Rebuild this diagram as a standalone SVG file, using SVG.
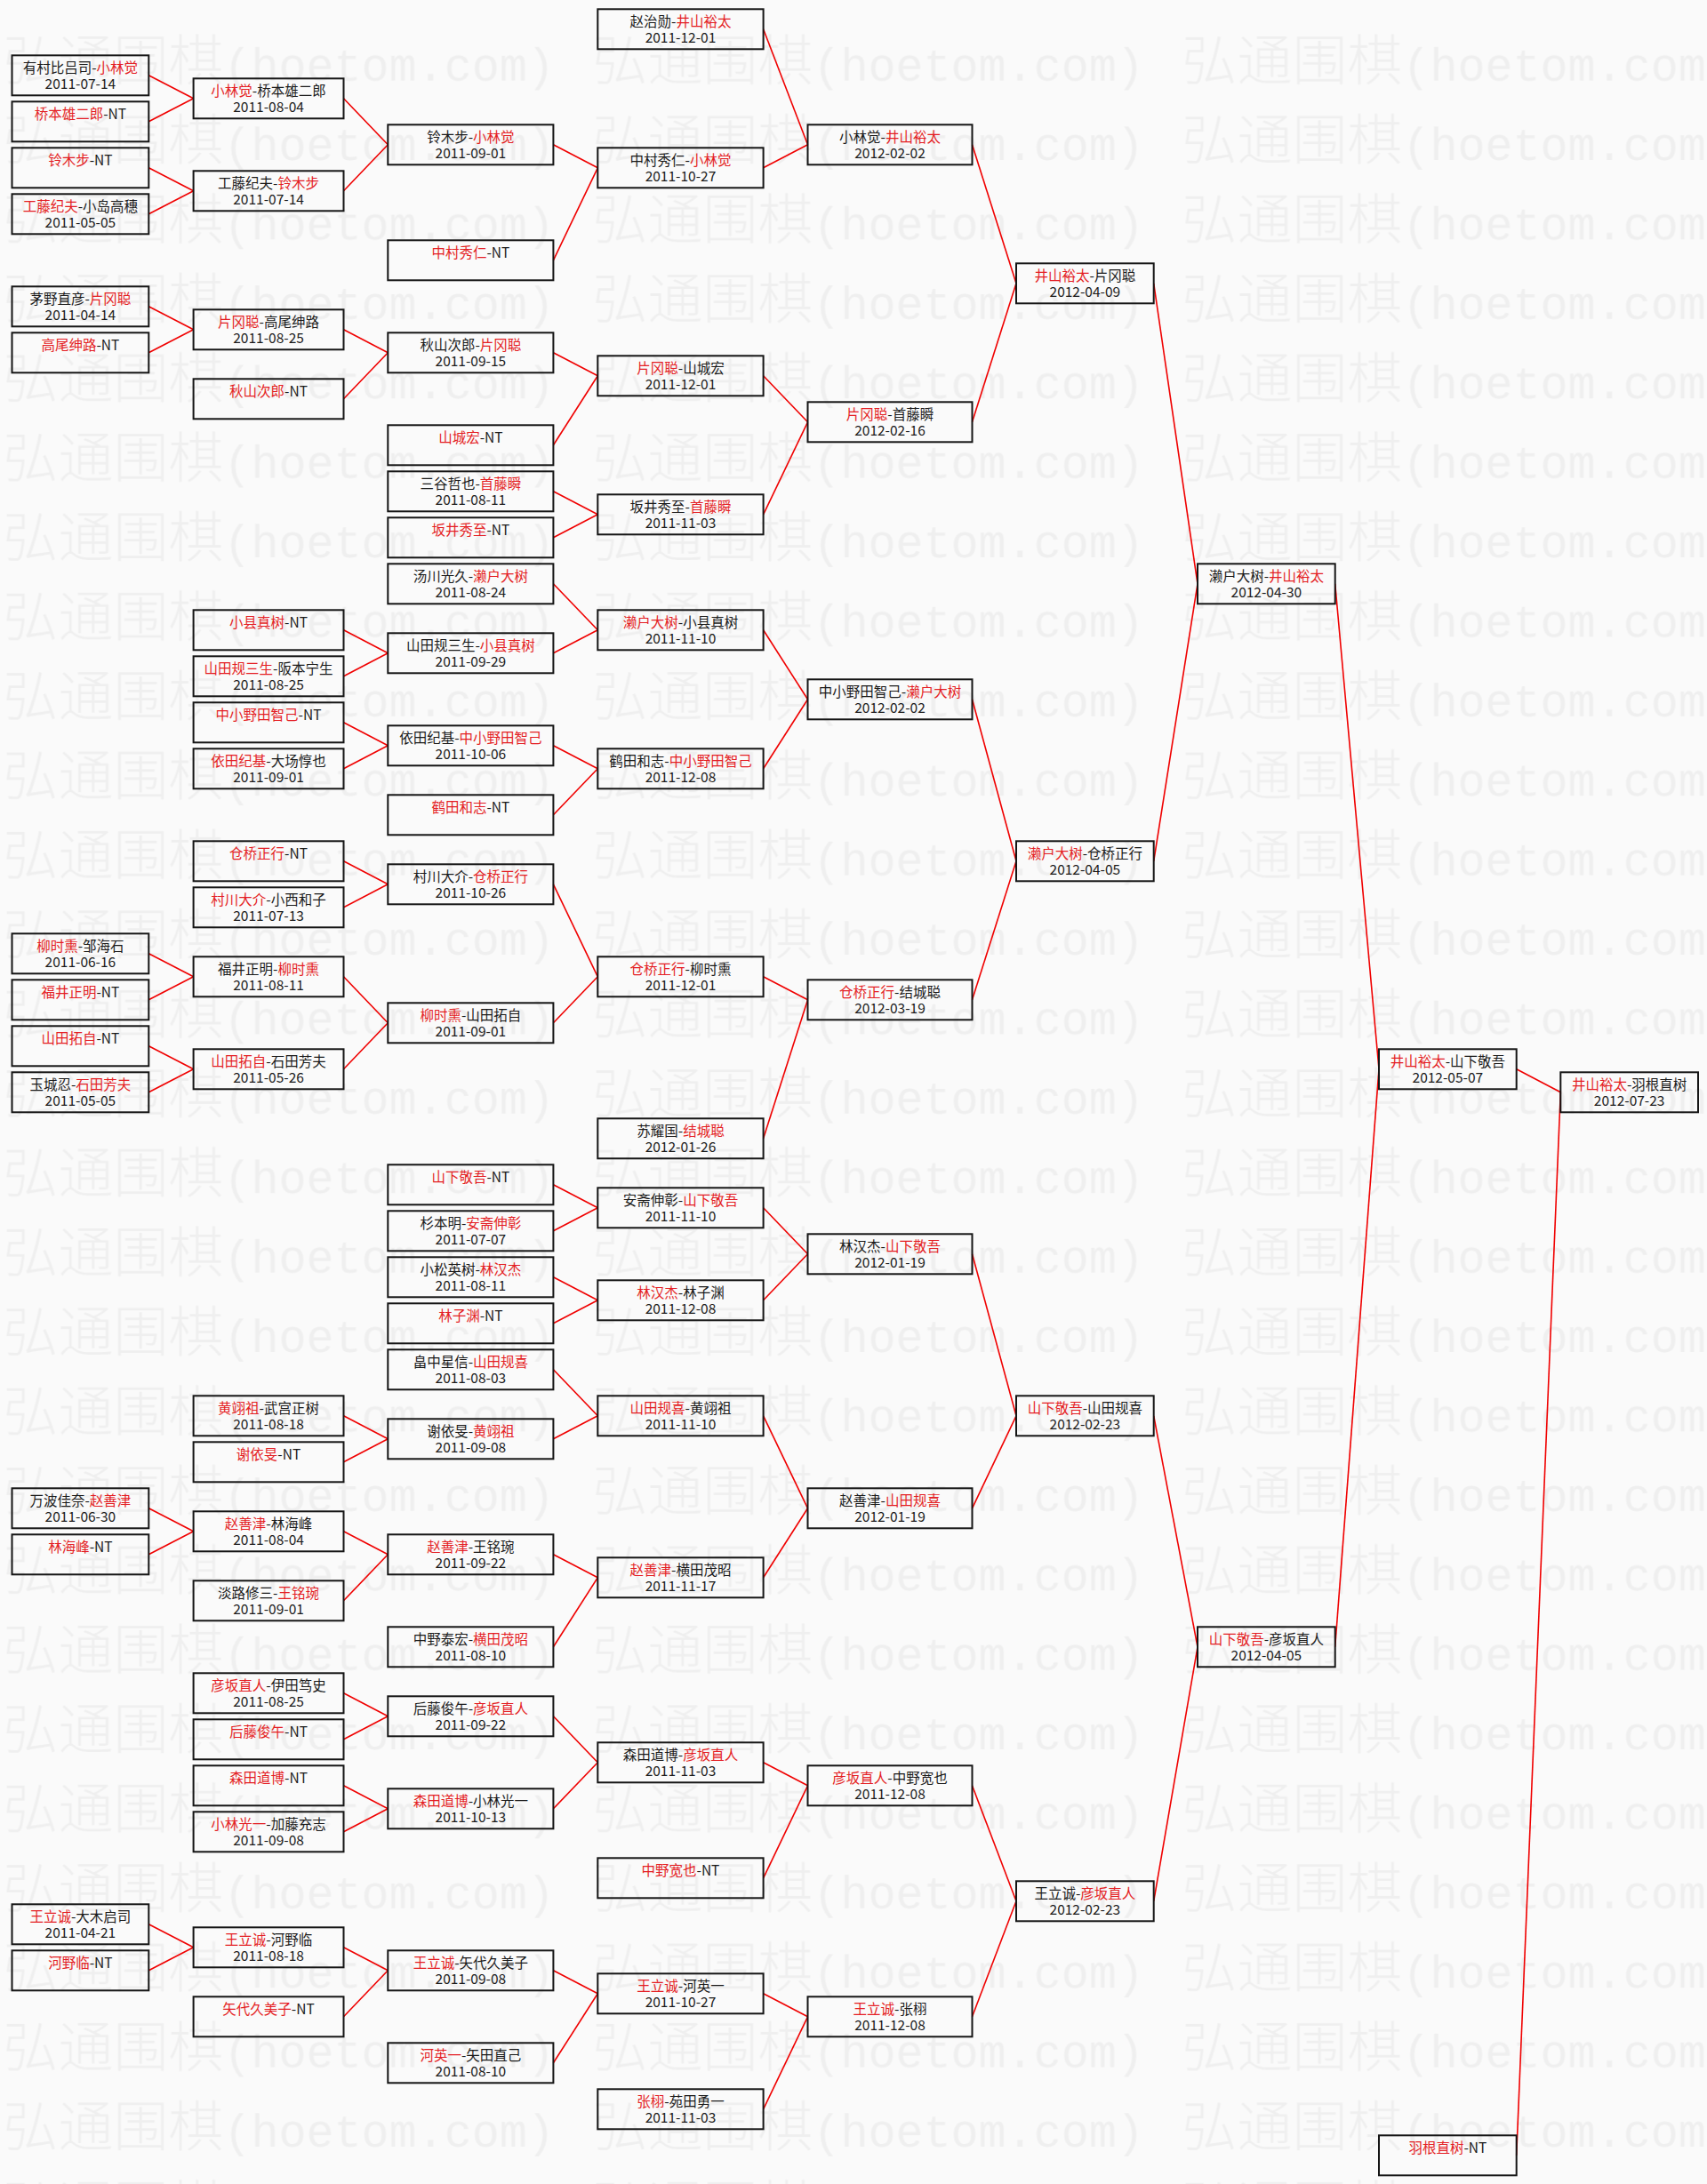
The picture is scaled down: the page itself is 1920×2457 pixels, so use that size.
<svg xmlns="http://www.w3.org/2000/svg" width="1920" height="2457" viewBox="0 0 1920 2457">
<style>
.bg{fill:#fafafa}
.wm{font-family:"Noto Sans CJK SC","Noto Sans",sans-serif;font-size:62px;font-weight:300;fill:#efefef}
.wl{font-family:"Liberation Mono",monospace;font-size:51.7px}
.b{fill:none;stroke:#151515;stroke-width:2}
.t{font-family:"Noto Sans CJK SC","Noto Sans",sans-serif;font-size:15.5px;fill:#1a1a1a;text-anchor:middle}
.r{fill:#e41e24}
#links path{stroke:#f00000;stroke-width:1.6;fill:none}
</style>
<defs>
<pattern id="wmp" patternUnits="userSpaceOnUse" x="3.5" y="31" width="663" height="89.4">
<text class="wm" x="0" y="60">弘通围棋<tspan class="wl">(hoetom.com)</tspan></text>
</pattern>
</defs>
<rect class="bg" x="0" y="0" width="1920" height="2457"/>
<rect x="0" y="31" width="1920" height="2426" fill="url(#wmp)"/>

<g id="links">
<path d="M167.3 84.8L217.6 110.8"/><path d="M167.3 136.8L217.6 110.8"/>
<path d="M167.3 188.8L217.6 214.8"/><path d="M167.3 240.8L217.6 214.8"/>
<path d="M167.3 344.8L217.6 370.8"/><path d="M167.3 396.8L217.6 370.8"/>
<path d="M167.3 1072.8L217.6 1098.8"/><path d="M167.3 1124.8L217.6 1098.8"/>
<path d="M167.3 1176.8L217.6 1202.8"/><path d="M167.3 1228.8L217.6 1202.8"/>
<path d="M167.3 1696.8L217.6 1722.8"/><path d="M167.3 1748.8L217.6 1722.8"/>
<path d="M167.3 2164.8L217.6 2190.8"/><path d="M167.3 2216.8L217.6 2190.8"/>

<path d="M386.5 110.8L436.3 162.8"/><path d="M386.5 214.8L436.3 162.8"/>
<path d="M386.5 370.8L436.3 396.8"/><path d="M386.5 448.8L436.3 396.8"/>
<path d="M386.5 708.8L436.3 734.8"/><path d="M386.5 760.8L436.3 734.8"/>
<path d="M386.5 812.8L436.3 838.8"/><path d="M386.5 864.8L436.3 838.8"/>
<path d="M386.5 968.8L436.3 994.8"/><path d="M386.5 1020.8L436.3 994.8"/>
<path d="M386.5 1098.8L436.3 1150.8"/><path d="M386.5 1202.8L436.3 1150.8"/>
<path d="M386.5 1592.8L436.3 1618.8"/><path d="M386.5 1644.8L436.3 1618.8"/>
<path d="M386.5 1722.8L436.3 1748.8"/><path d="M386.5 1800.8L436.3 1748.8"/>
<path d="M386.5 1904.8L436.3 1930.8"/><path d="M386.5 1956.8L436.3 1930.8"/>
<path d="M386.5 2008.8L436.3 2034.8"/><path d="M386.5 2060.8L436.3 2034.8"/>
<path d="M386.5 2190.8L436.3 2216.8"/><path d="M386.5 2268.8L436.3 2216.8"/>

<path d="M622.4 162.8L672.3 188.8"/><path d="M622.4 292.8L672.3 188.8"/>
<path d="M622.4 396.8L672.3 422.8"/><path d="M622.4 500.8L672.3 422.8"/>
<path d="M622.4 552.8L672.3 578.8"/><path d="M622.4 604.8L672.3 578.8"/>
<path d="M622.4 656.8L672.3 708.8"/><path d="M622.4 734.8L672.3 708.8"/>
<path d="M622.4 838.8L672.3 864.8"/><path d="M622.4 916.8L672.3 864.8"/>
<path d="M622.4 994.8L672.3 1098.8"/><path d="M622.4 1150.8L672.3 1098.8"/>
<path d="M622.4 1332.8L672.3 1358.8"/><path d="M622.4 1384.8L672.3 1358.8"/>
<path d="M622.4 1436.8L672.3 1462.8"/><path d="M622.4 1488.8L672.3 1462.8"/>
<path d="M622.4 1540.8L672.3 1592.8"/><path d="M622.4 1618.8L672.3 1592.8"/>
<path d="M622.4 1748.8L672.3 1774.8"/><path d="M622.4 1852.8L672.3 1774.8"/>
<path d="M622.4 1930.8L672.3 1982.8"/><path d="M622.4 2034.8L672.3 1982.8"/>
<path d="M622.4 2216.8L672.3 2242.8"/><path d="M622.4 2320.8L672.3 2242.8"/>

<path d="M858.6 32.8L908.5 162.8"/><path d="M858.6 188.8L908.5 162.8"/>
<path d="M858.6 422.8L908.5 474.8"/><path d="M858.6 578.8L908.5 474.8"/>
<path d="M858.6 708.8L908.5 786.8"/><path d="M858.6 864.8L908.5 786.8"/>
<path d="M858.6 1098.8L908.5 1124.8"/><path d="M858.6 1280.8L908.5 1124.8"/>
<path d="M858.6 1358.8L908.5 1410.8"/><path d="M858.6 1462.8L908.5 1410.8"/>
<path d="M858.6 1592.8L908.5 1696.8"/><path d="M858.6 1774.8L908.5 1696.8"/>
<path d="M858.6 1982.8L908.5 2008.8"/><path d="M858.6 2112.8L908.5 2008.8"/>
<path d="M858.6 2242.8L908.5 2268.8"/><path d="M858.6 2372.8L908.5 2268.8"/>

<path d="M1093.5 162.8L1143 318.8"/><path d="M1093.5 474.8L1143 318.8"/>
<path d="M1093.5 786.8L1143 968.8"/><path d="M1093.5 1124.8L1143 968.8"/>
<path d="M1093.5 1410.8L1143 1592.8"/><path d="M1093.5 1696.8L1143 1592.8"/>
<path d="M1093.5 2008.8L1143 2138.8"/><path d="M1093.5 2268.8L1143 2138.8"/>

<path d="M1297.7 318.8L1347 656.8"/><path d="M1297.7 968.8L1347 656.8"/>
<path d="M1297.7 1592.8L1347 1852.8"/><path d="M1297.7 2138.8L1347 1852.8"/>

<path d="M1501.7 656.8L1551 1202.8"/><path d="M1501.7 1852.8L1551 1202.8"/>

<path d="M1705.7 1202.8L1755.3 1228.8"/><path d="M1705.7 2424.8L1755.3 1228.8"/>
</g>

<!-- column 0 -->
<g id="c0r2" transform="translate(13.5 62.3)"><rect class="b" width="153.8" height="45"/><text class="t" x="76.9" y="20">有村比吕司-<tspan class="r">小林觉</tspan></text><text class="t" x="76.9" y="38">2011-07-14</text></g>
<g id="c0r4" transform="translate(13.5 114.3)"><rect class="b" width="153.8" height="45"/><text class="t" x="76.9" y="20"><tspan class="r">桥本雄二郎</tspan>-NT</text></g>
<g id="c0r6" transform="translate(13.5 166.3)"><rect class="b" width="153.8" height="45"/><text class="t" x="76.9" y="20"><tspan class="r">铃木步</tspan>-NT</text></g>
<g id="c0r8" transform="translate(13.5 218.3)"><rect class="b" width="153.8" height="45"/><text class="t" x="76.9" y="20"><tspan class="r">工藤纪夫</tspan>-小岛高穗</text><text class="t" x="76.9" y="38">2011-05-05</text></g>
<g id="c0r12" transform="translate(13.5 322.3)"><rect class="b" width="153.8" height="45"/><text class="t" x="76.9" y="20">茅野直彦-<tspan class="r">片冈聪</tspan></text><text class="t" x="76.9" y="38">2011-04-14</text></g>
<g id="c0r14" transform="translate(13.5 374.3)"><rect class="b" width="153.8" height="45"/><text class="t" x="76.9" y="20"><tspan class="r">高尾绅路</tspan>-NT</text></g>
<g id="c0r40" transform="translate(13.5 1050.3)"><rect class="b" width="153.8" height="45"/><text class="t" x="76.9" y="20"><tspan class="r">柳时熏</tspan>-邹海石</text><text class="t" x="76.9" y="38">2011-06-16</text></g>
<g id="c0r42" transform="translate(13.5 1102.3)"><rect class="b" width="153.8" height="45"/><text class="t" x="76.9" y="20"><tspan class="r">福井正明</tspan>-NT</text></g>
<g id="c0r44" transform="translate(13.5 1154.3)"><rect class="b" width="153.8" height="45"/><text class="t" x="76.9" y="20"><tspan class="r">山田拓自</tspan>-NT</text></g>
<g id="c0r46" transform="translate(13.5 1206.3)"><rect class="b" width="153.8" height="45"/><text class="t" x="76.9" y="20">玉城忍-<tspan class="r">石田芳夫</tspan></text><text class="t" x="76.9" y="38">2011-05-05</text></g>
<g id="c0r64" transform="translate(13.5 1674.3)"><rect class="b" width="153.8" height="45"/><text class="t" x="76.9" y="20">万波佳奈-<tspan class="r">赵善津</tspan></text><text class="t" x="76.9" y="38">2011-06-30</text></g>
<g id="c0r66" transform="translate(13.5 1726.3)"><rect class="b" width="153.8" height="45"/><text class="t" x="76.9" y="20"><tspan class="r">林海峰</tspan>-NT</text></g>
<g id="c0r82" transform="translate(13.5 2142.3)"><rect class="b" width="153.8" height="45"/><text class="t" x="76.9" y="20"><tspan class="r">王立诚</tspan>-大木启司</text><text class="t" x="76.9" y="38">2011-04-21</text></g>
<g id="c0r84" transform="translate(13.5 2194.3)"><rect class="b" width="153.8" height="45"/><text class="t" x="76.9" y="20"><tspan class="r">河野临</tspan>-NT</text></g>

<!-- column 1 -->
<g id="c1r3" transform="translate(217.6 88.3)"><rect class="b" width="168.9" height="45"/><text class="t" x="84.45" y="20"><tspan class="r">小林觉</tspan>-桥本雄二郎</text><text class="t" x="84.45" y="38">2011-08-04</text></g>
<g id="c1r7" transform="translate(217.6 192.3)"><rect class="b" width="168.9" height="45"/><text class="t" x="84.45" y="20">工藤纪夫-<tspan class="r">铃木步</tspan></text><text class="t" x="84.45" y="38">2011-07-14</text></g>
<g id="c1r13" transform="translate(217.6 348.3)"><rect class="b" width="168.9" height="45"/><text class="t" x="84.45" y="20"><tspan class="r">片冈聪</tspan>-高尾绅路</text><text class="t" x="84.45" y="38">2011-08-25</text></g>
<g id="c1r16" transform="translate(217.6 426.3)"><rect class="b" width="168.9" height="45"/><text class="t" x="84.45" y="20"><tspan class="r">秋山次郎</tspan>-NT</text></g>
<g id="c1r26" transform="translate(217.6 686.3)"><rect class="b" width="168.9" height="45"/><text class="t" x="84.45" y="20"><tspan class="r">小县真树</tspan>-NT</text></g>
<g id="c1r28" transform="translate(217.6 738.3)"><rect class="b" width="168.9" height="45"/><text class="t" x="84.45" y="20"><tspan class="r">山田规三生</tspan>-阪本宁生</text><text class="t" x="84.45" y="38">2011-08-25</text></g>
<g id="c1r30" transform="translate(217.6 790.3)"><rect class="b" width="168.9" height="45"/><text class="t" x="84.45" y="20"><tspan class="r">中小野田智己</tspan>-NT</text></g>
<g id="c1r32" transform="translate(217.6 842.3)"><rect class="b" width="168.9" height="45"/><text class="t" x="84.45" y="20"><tspan class="r">依田纪基</tspan>-大场惇也</text><text class="t" x="84.45" y="38">2011-09-01</text></g>
<g id="c1r36" transform="translate(217.6 946.3)"><rect class="b" width="168.9" height="45"/><text class="t" x="84.45" y="20"><tspan class="r">仓桥正行</tspan>-NT</text></g>
<g id="c1r38" transform="translate(217.6 998.3)"><rect class="b" width="168.9" height="45"/><text class="t" x="84.45" y="20"><tspan class="r">村川大介</tspan>-小西和子</text><text class="t" x="84.45" y="38">2011-07-13</text></g>
<g id="c1r41" transform="translate(217.6 1076.3)"><rect class="b" width="168.9" height="45"/><text class="t" x="84.45" y="20">福井正明-<tspan class="r">柳时熏</tspan></text><text class="t" x="84.45" y="38">2011-08-11</text></g>
<g id="c1r45" transform="translate(217.6 1180.3)"><rect class="b" width="168.9" height="45"/><text class="t" x="84.45" y="20"><tspan class="r">山田拓自</tspan>-石田芳夫</text><text class="t" x="84.45" y="38">2011-05-26</text></g>
<g id="c1r60" transform="translate(217.6 1570.3)"><rect class="b" width="168.9" height="45"/><text class="t" x="84.45" y="20"><tspan class="r">黄翊祖</tspan>-武宫正树</text><text class="t" x="84.45" y="38">2011-08-18</text></g>
<g id="c1r62" transform="translate(217.6 1622.3)"><rect class="b" width="168.9" height="45"/><text class="t" x="84.45" y="20"><tspan class="r">谢依旻</tspan>-NT</text></g>
<g id="c1r65" transform="translate(217.6 1700.3)"><rect class="b" width="168.9" height="45"/><text class="t" x="84.45" y="20"><tspan class="r">赵善津</tspan>-林海峰</text><text class="t" x="84.45" y="38">2011-08-04</text></g>
<g id="c1r68" transform="translate(217.6 1778.3)"><rect class="b" width="168.9" height="45"/><text class="t" x="84.45" y="20">淡路修三-<tspan class="r">王铭琬</tspan></text><text class="t" x="84.45" y="38">2011-09-01</text></g>
<g id="c1r72" transform="translate(217.6 1882.3)"><rect class="b" width="168.9" height="45"/><text class="t" x="84.45" y="20"><tspan class="r">彦坂直人</tspan>-伊田笃史</text><text class="t" x="84.45" y="38">2011-08-25</text></g>
<g id="c1r74" transform="translate(217.6 1934.3)"><rect class="b" width="168.9" height="45"/><text class="t" x="84.45" y="20"><tspan class="r">后藤俊午</tspan>-NT</text></g>
<g id="c1r76" transform="translate(217.6 1986.3)"><rect class="b" width="168.9" height="45"/><text class="t" x="84.45" y="20"><tspan class="r">森田道博</tspan>-NT</text></g>
<g id="c1r78" transform="translate(217.6 2038.3)"><rect class="b" width="168.9" height="45"/><text class="t" x="84.45" y="20"><tspan class="r">小林光一</tspan>-加藤充志</text><text class="t" x="84.45" y="38">2011-09-08</text></g>
<g id="c1r83" transform="translate(217.6 2168.3)"><rect class="b" width="168.9" height="45"/><text class="t" x="84.45" y="20"><tspan class="r">王立诚</tspan>-河野临</text><text class="t" x="84.45" y="38">2011-08-18</text></g>
<g id="c1r86" transform="translate(217.6 2246.3)"><rect class="b" width="168.9" height="45"/><text class="t" x="84.45" y="20"><tspan class="r">矢代久美子</tspan>-NT</text></g>

<!-- column 2 -->
<g id="c2r5" transform="translate(436.3 140.3)"><rect class="b" width="186.1" height="45"/><text class="t" x="93.05" y="20">铃木步-<tspan class="r">小林觉</tspan></text><text class="t" x="93.05" y="38">2011-09-01</text></g>
<g id="c2r10" transform="translate(436.3 270.3)"><rect class="b" width="186.1" height="45"/><text class="t" x="93.05" y="20"><tspan class="r">中村秀仁</tspan>-NT</text></g>
<g id="c2r14" transform="translate(436.3 374.3)"><rect class="b" width="186.1" height="45"/><text class="t" x="93.05" y="20">秋山次郎-<tspan class="r">片冈聪</tspan></text><text class="t" x="93.05" y="38">2011-09-15</text></g>
<g id="c2r18" transform="translate(436.3 478.3)"><rect class="b" width="186.1" height="45"/><text class="t" x="93.05" y="20"><tspan class="r">山城宏</tspan>-NT</text></g>
<g id="c2r20" transform="translate(436.3 530.3)"><rect class="b" width="186.1" height="45"/><text class="t" x="93.05" y="20">三谷哲也-<tspan class="r">首藤瞬</tspan></text><text class="t" x="93.05" y="38">2011-08-11</text></g>
<g id="c2r22" transform="translate(436.3 582.3)"><rect class="b" width="186.1" height="45"/><text class="t" x="93.05" y="20"><tspan class="r">坂井秀至</tspan>-NT</text></g>
<g id="c2r24" transform="translate(436.3 634.3)"><rect class="b" width="186.1" height="45"/><text class="t" x="93.05" y="20">汤川光久-<tspan class="r">濑户大树</tspan></text><text class="t" x="93.05" y="38">2011-08-24</text></g>
<g id="c2r27" transform="translate(436.3 712.3)"><rect class="b" width="186.1" height="45"/><text class="t" x="93.05" y="20">山田规三生-<tspan class="r">小县真树</tspan></text><text class="t" x="93.05" y="38">2011-09-29</text></g>
<g id="c2r31" transform="translate(436.3 816.3)"><rect class="b" width="186.1" height="45"/><text class="t" x="93.05" y="20">依田纪基-<tspan class="r">中小野田智己</tspan></text><text class="t" x="93.05" y="38">2011-10-06</text></g>
<g id="c2r34" transform="translate(436.3 894.3)"><rect class="b" width="186.1" height="45"/><text class="t" x="93.05" y="20"><tspan class="r">鹤田和志</tspan>-NT</text></g>
<g id="c2r37" transform="translate(436.3 972.3)"><rect class="b" width="186.1" height="45"/><text class="t" x="93.05" y="20">村川大介-<tspan class="r">仓桥正行</tspan></text><text class="t" x="93.05" y="38">2011-10-26</text></g>
<g id="c2r43" transform="translate(436.3 1128.3)"><rect class="b" width="186.1" height="45"/><text class="t" x="93.05" y="20"><tspan class="r">柳时熏</tspan>-山田拓自</text><text class="t" x="93.05" y="38">2011-09-01</text></g>
<g id="c2r50" transform="translate(436.3 1310.3)"><rect class="b" width="186.1" height="45"/><text class="t" x="93.05" y="20"><tspan class="r">山下敬吾</tspan>-NT</text></g>
<g id="c2r52" transform="translate(436.3 1362.3)"><rect class="b" width="186.1" height="45"/><text class="t" x="93.05" y="20">杉本明-<tspan class="r">安斋伸彰</tspan></text><text class="t" x="93.05" y="38">2011-07-07</text></g>
<g id="c2r54" transform="translate(436.3 1414.3)"><rect class="b" width="186.1" height="45"/><text class="t" x="93.05" y="20">小松英树-<tspan class="r">林汉杰</tspan></text><text class="t" x="93.05" y="38">2011-08-11</text></g>
<g id="c2r56" transform="translate(436.3 1466.3)"><rect class="b" width="186.1" height="45"/><text class="t" x="93.05" y="20"><tspan class="r">林子渊</tspan>-NT</text></g>
<g id="c2r58" transform="translate(436.3 1518.3)"><rect class="b" width="186.1" height="45"/><text class="t" x="93.05" y="20">畠中星信-<tspan class="r">山田规喜</tspan></text><text class="t" x="93.05" y="38">2011-08-03</text></g>
<g id="c2r61" transform="translate(436.3 1596.3)"><rect class="b" width="186.1" height="45"/><text class="t" x="93.05" y="20">谢依旻-<tspan class="r">黄翊祖</tspan></text><text class="t" x="93.05" y="38">2011-09-08</text></g>
<g id="c2r66" transform="translate(436.3 1726.3)"><rect class="b" width="186.1" height="45"/><text class="t" x="93.05" y="20"><tspan class="r">赵善津</tspan>-王铭琬</text><text class="t" x="93.05" y="38">2011-09-22</text></g>
<g id="c2r70" transform="translate(436.3 1830.3)"><rect class="b" width="186.1" height="45"/><text class="t" x="93.05" y="20">中野泰宏-<tspan class="r">横田茂昭</tspan></text><text class="t" x="93.05" y="38">2011-08-10</text></g>
<g id="c2r73" transform="translate(436.3 1908.3)"><rect class="b" width="186.1" height="45"/><text class="t" x="93.05" y="20">后藤俊午-<tspan class="r">彦坂直人</tspan></text><text class="t" x="93.05" y="38">2011-09-22</text></g>
<g id="c2r77" transform="translate(436.3 2012.3)"><rect class="b" width="186.1" height="45"/><text class="t" x="93.05" y="20"><tspan class="r">森田道博</tspan>-小林光一</text><text class="t" x="93.05" y="38">2011-10-13</text></g>
<g id="c2r84" transform="translate(436.3 2194.3)"><rect class="b" width="186.1" height="45"/><text class="t" x="93.05" y="20"><tspan class="r">王立诚</tspan>-矢代久美子</text><text class="t" x="93.05" y="38">2011-09-08</text></g>
<g id="c2r88" transform="translate(436.3 2298.3)"><rect class="b" width="186.1" height="45"/><text class="t" x="93.05" y="20"><tspan class="r">河英一</tspan>-矢田直己</text><text class="t" x="93.05" y="38">2011-08-10</text></g>

<!-- column 3 -->
<g id="c3r0" transform="translate(672.3 10.3)"><rect class="b" width="186.3" height="45"/><text class="t" x="93.15" y="20">赵治勋-<tspan class="r">井山裕太</tspan></text><text class="t" x="93.15" y="38">2011-12-01</text></g>
<g id="c3r6" transform="translate(672.3 166.3)"><rect class="b" width="186.3" height="45"/><text class="t" x="93.15" y="20">中村秀仁-<tspan class="r">小林觉</tspan></text><text class="t" x="93.15" y="38">2011-10-27</text></g>
<g id="c3r15" transform="translate(672.3 400.3)"><rect class="b" width="186.3" height="45"/><text class="t" x="93.15" y="20"><tspan class="r">片冈聪</tspan>-山城宏</text><text class="t" x="93.15" y="38">2011-12-01</text></g>
<g id="c3r21" transform="translate(672.3 556.3)"><rect class="b" width="186.3" height="45"/><text class="t" x="93.15" y="20">坂井秀至-<tspan class="r">首藤瞬</tspan></text><text class="t" x="93.15" y="38">2011-11-03</text></g>
<g id="c3r26" transform="translate(672.3 686.3)"><rect class="b" width="186.3" height="45"/><text class="t" x="93.15" y="20"><tspan class="r">濑户大树</tspan>-小县真树</text><text class="t" x="93.15" y="38">2011-11-10</text></g>
<g id="c3r32" transform="translate(672.3 842.3)"><rect class="b" width="186.3" height="45"/><text class="t" x="93.15" y="20">鹤田和志-<tspan class="r">中小野田智己</tspan></text><text class="t" x="93.15" y="38">2011-12-08</text></g>
<g id="c3r41" transform="translate(672.3 1076.3)"><rect class="b" width="186.3" height="45"/><text class="t" x="93.15" y="20"><tspan class="r">仓桥正行</tspan>-柳时熏</text><text class="t" x="93.15" y="38">2011-12-01</text></g>
<g id="c3r48" transform="translate(672.3 1258.3)"><rect class="b" width="186.3" height="45"/><text class="t" x="93.15" y="20">苏耀国-<tspan class="r">结城聪</tspan></text><text class="t" x="93.15" y="38">2012-01-26</text></g>
<g id="c3r51" transform="translate(672.3 1336.3)"><rect class="b" width="186.3" height="45"/><text class="t" x="93.15" y="20">安斋伸彰-<tspan class="r">山下敬吾</tspan></text><text class="t" x="93.15" y="38">2011-11-10</text></g>
<g id="c3r55" transform="translate(672.3 1440.3)"><rect class="b" width="186.3" height="45"/><text class="t" x="93.15" y="20"><tspan class="r">林汉杰</tspan>-林子渊</text><text class="t" x="93.15" y="38">2011-12-08</text></g>
<g id="c3r60" transform="translate(672.3 1570.3)"><rect class="b" width="186.3" height="45"/><text class="t" x="93.15" y="20"><tspan class="r">山田规喜</tspan>-黄翊祖</text><text class="t" x="93.15" y="38">2011-11-10</text></g>
<g id="c3r67" transform="translate(672.3 1752.3)"><rect class="b" width="186.3" height="45"/><text class="t" x="93.15" y="20"><tspan class="r">赵善津</tspan>-横田茂昭</text><text class="t" x="93.15" y="38">2011-11-17</text></g>
<g id="c3r75" transform="translate(672.3 1960.3)"><rect class="b" width="186.3" height="45"/><text class="t" x="93.15" y="20">森田道博-<tspan class="r">彦坂直人</tspan></text><text class="t" x="93.15" y="38">2011-11-03</text></g>
<g id="c3r80" transform="translate(672.3 2090.3)"><rect class="b" width="186.3" height="45"/><text class="t" x="93.15" y="20"><tspan class="r">中野宽也</tspan>-NT</text></g>
<g id="c3r85" transform="translate(672.3 2220.3)"><rect class="b" width="186.3" height="45"/><text class="t" x="93.15" y="20"><tspan class="r">王立诚</tspan>-河英一</text><text class="t" x="93.15" y="38">2011-10-27</text></g>
<g id="c3r90" transform="translate(672.3 2350.3)"><rect class="b" width="186.3" height="45"/><text class="t" x="93.15" y="20"><tspan class="r">张栩</tspan>-苑田勇一</text><text class="t" x="93.15" y="38">2011-11-03</text></g>

<!-- column 4 -->
<g id="c4r5" transform="translate(908.5 140.3)"><rect class="b" width="185" height="45"/><text class="t" x="92.5" y="20">小林觉-<tspan class="r">井山裕太</tspan></text><text class="t" x="92.5" y="38">2012-02-02</text></g>
<g id="c4r17" transform="translate(908.5 452.3)"><rect class="b" width="185" height="45"/><text class="t" x="92.5" y="20"><tspan class="r">片冈聪</tspan>-首藤瞬</text><text class="t" x="92.5" y="38">2012-02-16</text></g>
<g id="c4r29" transform="translate(908.5 764.3)"><rect class="b" width="185" height="45"/><text class="t" x="92.5" y="20">中小野田智己-<tspan class="r">濑户大树</tspan></text><text class="t" x="92.5" y="38">2012-02-02</text></g>
<g id="c4r42" transform="translate(908.5 1102.3)"><rect class="b" width="185" height="45"/><text class="t" x="92.5" y="20"><tspan class="r">仓桥正行</tspan>-结城聪</text><text class="t" x="92.5" y="38">2012-03-19</text></g>
<g id="c4r53" transform="translate(908.5 1388.3)"><rect class="b" width="185" height="45"/><text class="t" x="92.5" y="20">林汉杰-<tspan class="r">山下敬吾</tspan></text><text class="t" x="92.5" y="38">2012-01-19</text></g>
<g id="c4r64" transform="translate(908.5 1674.3)"><rect class="b" width="185" height="45"/><text class="t" x="92.5" y="20">赵善津-<tspan class="r">山田规喜</tspan></text><text class="t" x="92.5" y="38">2012-01-19</text></g>
<g id="c4r76" transform="translate(908.5 1986.3)"><rect class="b" width="185" height="45"/><text class="t" x="92.5" y="20"><tspan class="r">彦坂直人</tspan>-中野宽也</text><text class="t" x="92.5" y="38">2011-12-08</text></g>
<g id="c4r86" transform="translate(908.5 2246.3)"><rect class="b" width="185" height="45"/><text class="t" x="92.5" y="20"><tspan class="r">王立诚</tspan>-张栩</text><text class="t" x="92.5" y="38">2011-12-08</text></g>

<!-- column 5 -->
<g id="c5r11" transform="translate(1143 296.3)"><rect class="b" width="154.7" height="45"/><text class="t" x="77.35" y="20"><tspan class="r">井山裕太</tspan>-片冈聪</text><text class="t" x="77.35" y="38">2012-04-09</text></g>
<g id="c5r36" transform="translate(1143 946.3)"><rect class="b" width="154.7" height="45"/><text class="t" x="77.35" y="20"><tspan class="r">濑户大树</tspan>-仓桥正行</text><text class="t" x="77.35" y="38">2012-04-05</text></g>
<g id="c5r60" transform="translate(1143 1570.3)"><rect class="b" width="154.7" height="45"/><text class="t" x="77.35" y="20"><tspan class="r">山下敬吾</tspan>-山田规喜</text><text class="t" x="77.35" y="38">2012-02-23</text></g>
<g id="c5r81" transform="translate(1143 2116.3)"><rect class="b" width="154.7" height="45"/><text class="t" x="77.35" y="20">王立诚-<tspan class="r">彦坂直人</tspan></text><text class="t" x="77.35" y="38">2012-02-23</text></g>

<!-- column 6 -->
<g id="c6r24" transform="translate(1347 634.3)"><rect class="b" width="154.7" height="45"/><text class="t" x="77.35" y="20">濑户大树-<tspan class="r">井山裕太</tspan></text><text class="t" x="77.35" y="38">2012-04-30</text></g>
<g id="c6r70" transform="translate(1347 1830.3)"><rect class="b" width="154.7" height="45"/><text class="t" x="77.35" y="20"><tspan class="r">山下敬吾</tspan>-彦坂直人</text><text class="t" x="77.35" y="38">2012-04-05</text></g>

<!-- column 7 -->
<g id="c7r45" transform="translate(1551 1180.3)"><rect class="b" width="154.7" height="45"/><text class="t" x="77.35" y="20"><tspan class="r">井山裕太</tspan>-山下敬吾</text><text class="t" x="77.35" y="38">2012-05-07</text></g>
<g id="c7r92" transform="translate(1551 2402.3)"><rect class="b" width="154.7" height="45"/><text class="t" x="77.35" y="20"><tspan class="r">羽根直树</tspan>-NT</text></g>

<!-- column 8 -->
<g id="c8r46" transform="translate(1755.3 1206.3)"><rect class="b" width="154.7" height="45"/><text class="t" x="77.35" y="20"><tspan class="r">井山裕太</tspan>-羽根直树</text><text class="t" x="77.35" y="38">2012-07-23</text></g>
</svg>
